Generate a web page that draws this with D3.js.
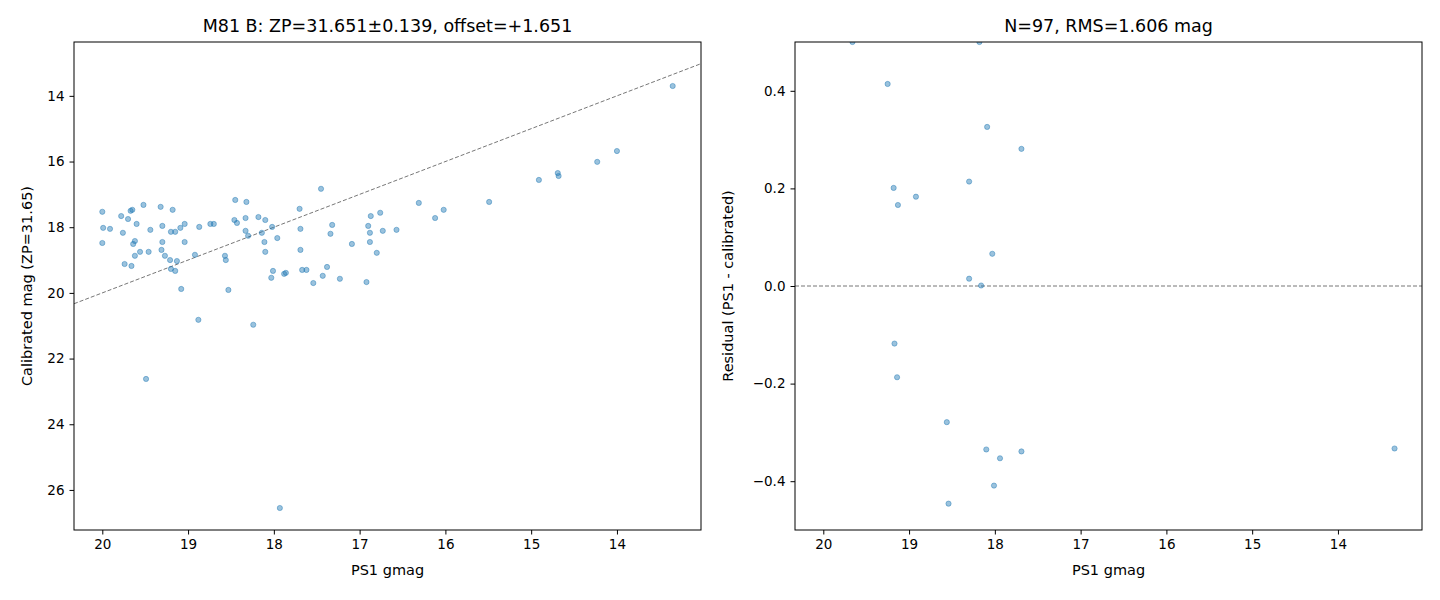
<!DOCTYPE html><html><head><meta charset="utf-8"><script src="https://d3js.org/d3.v7.min.js"></script>
<style>body{margin:0;background:#fff}text{font-family:"DejaVu Sans",sans-serif}</style></head><body><svg id="c" width="1440" height="600"></svg><script>
const gmag=[20.00,20.00,19.99,19.91,19.78,19.76,19.74,19.70,19.67,19.66,19.65,19.64,19.62,19.60,19.62,19.56,19.52,19.46,19.44,19.49,19.32,19.30,19.30,19.31,19.27,19.21,19.18,19.20,19.15,19.20,19.15,19.13,19.09,19.08,19.04,19.04,18.92,18.88,18.87,18.74,18.70,18.57,18.56,18.53,18.45,18.46,18.43,18.33,18.33,18.32,18.30,18.24,18.18,18.14,18.10,18.11,18.10,18.02,18.03,18.01,17.96,17.93,17.88,17.86,17.70,17.69,17.69,17.67,17.62,17.54,17.45,17.43,17.38,17.34,17.32,17.23,17.09,16.92,16.90,16.88,16.88,16.87,16.80,16.76,16.73,16.57,16.31,16.12,16.02,15.49,14.91,14.69,14.68,14.23,14.00,13.35];
const calMag=[17.53,18.48,18.02,18.05,17.66,18.17,19.12,17.75,17.50,19.18,17.47,18.51,18.42,17.90,18.87,18.75,17.32,18.75,18.08,22.62,17.38,17.96,18.45,18.69,18.87,19.00,17.47,18.14,18.14,19.27,19.33,19.03,18.02,19.88,17.90,18.45,18.84,20.82,17.99,17.90,17.90,18.87,19.00,19.91,17.17,17.78,17.87,17.72,18.11,17.23,18.26,20.97,17.69,18.17,17.78,18.45,18.75,17.99,19.54,19.33,18.33,26.55,19.42,19.39,17.44,18.05,18.69,19.30,19.30,19.70,16.83,19.48,19.21,18.20,17.93,19.57,18.51,19.67,17.96,18.17,18.45,17.66,18.78,17.56,18.11,18.08,17.26,17.72,17.47,17.23,16.56,16.35,16.44,16.01,15.68,13.70];
const resG=[19.66,19.25,18.18,19.18,19.13,18.92,18.30,18.09,17.69,18.30,18.16,18.03,19.17,19.14,18.56,18.10,17.94,17.69,18.54,18.01,13.34];
const resid=[0.50,0.414,0.50,0.201,0.166,0.183,0.214,0.326,0.281,0.015,0.001,0.066,-0.118,-0.187,-0.279,-0.335,-0.353,-0.339,-0.446,-0.409,-0.333];
const xTicks=[20,19,18,17,16,15,14];
const yTicksL=[14,16,18,20,22,24,26];
const yTicksR=[-0.4,-0.2,0,0.2,0.4];
const svg=d3.select("#c");
function panel(x0,labOff,title,ylabel,yDomain,yTicks,fmt,xs,ys,lineFn){
  const W=627,H=488,y0=42;
  const g=svg.append("g").attr("transform",`translate(${x0},${y0})`);
  const x=d3.scaleLinear().domain([20.33,13.02]).range([0,W]);
  const y=d3.scaleLinear().domain(yDomain).range([0,H]);
  const id="clip"+x0;
  g.append("clipPath").attr("id",id).append("rect").attr("width",W).attr("height",H);
  const pl=g.append("g").attr("clip-path",`url(#${id})`);
  lineFn(pl,x,y);
  pl.selectAll("circle").data(xs).join("circle").attr("cx",d=>x(d)).attr("cy",(d,i)=>y(ys[i])).attr("r",2.6)
    .attr("fill","#1f77b4").attr("fill-opacity",0.45).attr("stroke","#1f77b4").attr("stroke-opacity",0.45).attr("stroke-width",1);
  const ax=g.append("g").attr("transform",`translate(0,${H})`).call(d3.axisBottom(x).tickValues(xTicks).tickFormat(d3.format("d")).tickSize(4.5).tickPadding(5));
  const ay=g.append("g").call(d3.axisLeft(y).tickValues(yTicks).tickFormat(fmt).tickSize(4.5).tickPadding(5));
  [ax,ay].forEach(a=>{a.select(".domain").remove();a.selectAll("text").attr("font-size",13.5).attr("fill","#000").style("font-family","DejaVu Sans");a.selectAll("line").attr("stroke","#000");});
  g.append("rect").attr("width",W).attr("height",H).attr("fill","none").attr("stroke","#000").attr("stroke-width",1);
  g.append("text").attr("x",W/2).attr("y",-10).attr("text-anchor","middle").attr("font-size",17.5).text(title);
  g.append("text").attr("x",W/2).attr("y",H+45).attr("text-anchor","middle").attr("font-size",14.5).text("PS1 gmag");
  g.append("text").attr("transform",`translate(${labOff},${H/2}) rotate(-90)`).attr("text-anchor","middle").attr("font-size",14.5).text(ylabel);
}
panel(74,-42,"M81 B: ZP=31.651±0.139, offset=+1.651","Calibrated mag (ZP=31.65)",[12.36,27.22],yTicksL,d3.format("d"),gmag,calMag,
 (pl,x,y)=>pl.append("line").attr("x1",x(20.33)).attr("y1",y(20.33)).attr("x2",x(13.02)).attr("y2",y(13.02)).attr("stroke","#777").attr("stroke-dasharray","4,2").attr("stroke-width",1));
panel(795,-62,"N=97, RMS=1.606 mag","Residual (PS1 - calibrated)",[0.5,-0.5],yTicksR,d=>d===0?"0.0":d3.format(".1f")(d).replace("-","−"),resG,resid,
 (pl,x,y)=>pl.append("line").attr("x1",0).attr("x2",627).attr("y1",y(0)).attr("y2",y(0)).attr("stroke","#777").attr("stroke-dasharray","4,2").attr("stroke-width",1));
</script></body></html>
